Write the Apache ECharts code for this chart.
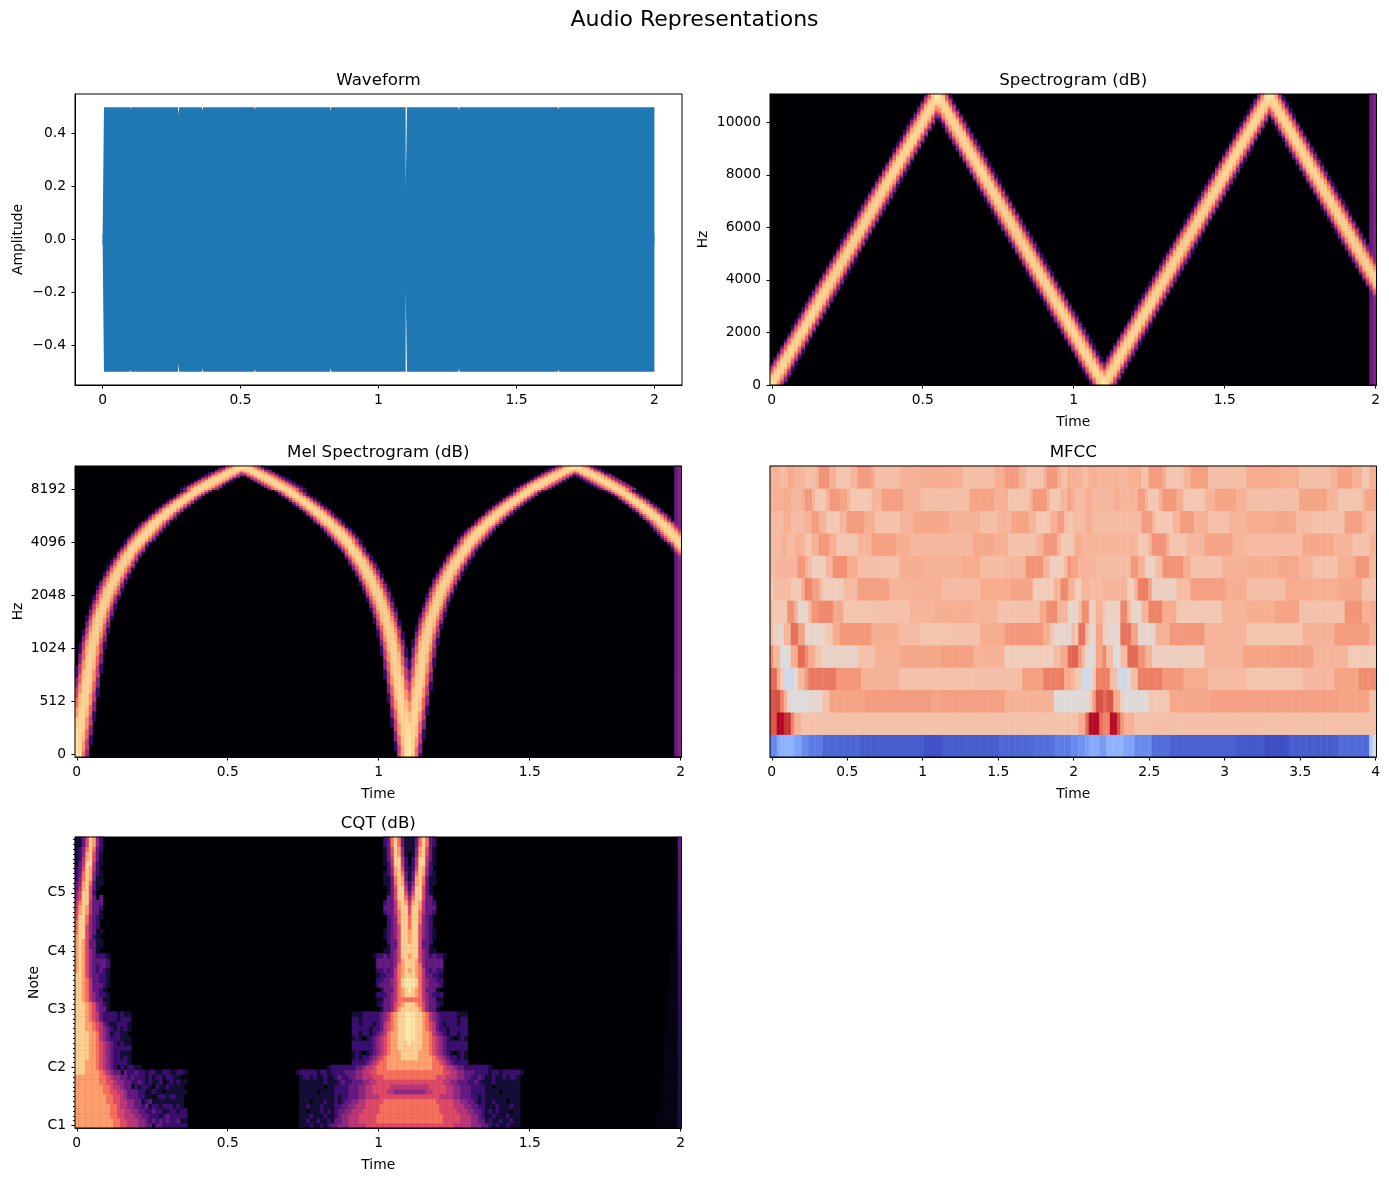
<!DOCTYPE html>
<html>
<head>
<meta charset="utf-8">
<title>Audio Representations</title>
<script src="https://cdn.jsdelivr.net/npm/echarts@6/dist/echarts.min.js"></script>
<style>
html, body { margin: 0; padding: 0; background: #fff; }
#main { width: 1389px; height: 1181px; }
</style>
</head>
<body>
<div id="main"></div>
<script>
// waveform envelope
var waveTime = [0, 0.005, 0.1, 0.1012, 0.1024, 0.2735, 0.2741, 0.2771, 0.2777, 0.36, 0.3606, 0.3636, 0.3642, 0.55, 0.5506, 0.5536, 0.5542, 0.825, 0.8256, 0.8286, 0.8292, 1.0985, 1.0986, 1.1032, 1.1033, 1.29, 1.2906, 1.2936, 1.2942, 1.65, 1.6506, 1.6536, 1.6542, 2];
var waveTop = [0, 0.5, 0.5, 0.49, 0.5, 0.5, 0.47, 0.47, 0.5, 0.5, 0.488, 0.488, 0.5, 0.5, 0.49, 0.49, 0.5, 0.5, 0.485, 0.485, 0.5, 0.5, 0.195, 0.195, 0.5, 0.5, 0.488, 0.488, 0.5, 0.5, 0.49, 0.49, 0.5, 0.5];
var waveBottom = [0, -0.5, -0.5, -0.49, -0.5, -0.5, -0.47, -0.47, -0.5, -0.5, -0.488, -0.488, -0.5, -0.5, -0.49, -0.49, -0.5, -0.5, -0.485, -0.485, -0.5, -0.5, -0.195, -0.195, -0.5, -0.5, -0.488, -0.488, -0.5, -0.5, -0.49, -0.49, -0.5, -0.5];

// tick labels
var timeTicks = [0, 0.5, 1, 1.5, 2];
var mfccTimeTicks = [0, 0.5, 1, 1.5, 2, 2.5, 3, 3.5, 4];
var waveXTicks = [0, 0.5, 1, 1.5, 2];
var waveYTicks = [-0.4, -0.2, 0, 0.2, 0.4];
var specTicks = [0, 2000, 4000, 6000, 8000, 10000];
var melTicks = [0, 512, 1024, 2048, 4096, 8192];
var noteLabels = ['C1', 'C2', 'C3', 'C4', 'C5'];

// frequency of the sweep in each STFT frame (Hz)
var ridgeHz = [
    0, 230, 470, 700, 930, 1160, 1400, 1630, 1860, 2090, 2330, 2560, 2790, 3030, 3260, 3490, 3720, 3960, 4190, 4420, 4650, 4890, 5120, 5350,
    5580, 5820, 6050, 6280, 6520, 6750, 6980, 7210, 7450, 7680, 7910, 8140, 8380, 8610, 8840, 9080, 9310, 9540, 9770, 10010, 10240, 10470, 10700, 10940,
    10880, 10650, 10420, 10180, 9950, 9720, 9490, 9250, 9020, 8790, 8560, 8320, 8090, 7860, 7620, 7390, 7160, 6930, 6690, 6460, 6230, 6000, 5760, 5530,
    5300, 5060, 4830, 4600, 4370, 4130, 3900, 3670, 3440, 3200, 2970, 2740, 2500, 2270, 2040, 1810, 1570, 1340, 1110, 880, 640, 410, 180,
    60, 290, 520, 760, 990, 1220, 1450, 1690, 1920, 2150, 2390, 2620, 2850, 3080, 3320, 3550, 3780, 4010, 4250, 4480, 4710, 4950, 5180, 5410,
    5640, 5880, 6110, 6340, 6580, 6810, 7040, 7270, 7510, 7740, 7970, 8200, 8440, 8670, 8900, 9140, 9370, 9600, 9830, 10070, 10300, 10530, 10760, 10990,
    10820, 10590, 10360, 10120, 9890, 9660, 9430, 9190, 8960, 8730, 8500, 8260, 8030, 7800, 7560, 7330, 7100, 6870, 6630, 6400, 6170, 5940, 5700, 5470,
    5240, 5000, 4770, 4540, 4310, 4070
];
// dB across the ridge, one entry per 100 Hz away from its centre
var lobeDb = [-7, -7, -8, -11, -18, -27, -37, -50, -66];
// mel filters get wider with pitch, one entry per axis unit
var melSpread = [1, 1, 1, 1.05, 1.15, 1.5];
// the two last frames are broadband
var edgeFrames = [171, 172];
var edgeDb = [-56, -50];

// MFCC rows as [end frame, value], value is percent of the colour range
var mfcc0 = [[2,-72],[3,-55],[7,-48],[9,-58],[11,-70],[15,-78],[26,-88],[44,-92],[49,-97],[65,-92],[75,-88],[81,-84],[86,-78],[88,-70],[90,-66],[91,-60],[94,-52],[96,-62],[101,-48],[104,-58],[109,-70],[114,-84],[133,-90],[141,-94],[148,-98],[162,-92],[171,-86],[172,-30],[173,-2]];
var mfcc1 = [[2,78],[4,100],[6,88],[7,60],[9,36],[86,26],[88,26],[90,40],[91,70],[94,98],[95,68],[97,60],[99,98],[100,80],[101,50],[104,36],[173,27]];
var mfcc2 = [[1,78],[3,80],[4,60],[5,36],[6,6],[11,0],[15,8],[17,26],[27,44],[46,48],[49,44],[67,46],[81,36],[86,2],[91,2],[92,20],[93,48],[95,80],[96,70],[98,78],[100,40],[101,12],[108,2],[114,22],[126,42],[145,46],[162,46],[171,44],[173,28]];
var mfcc3 = [[2,70],[3,40],[4,20],[7,-10],[8,4],[10,32],[11,50],[19,64],[26,50],[37,36],[58,26],[72,28],[78,46],[84,62],[86,40],[87,34],[89,22],[92,-8],[93,20],[97,62],[99,30],[102,-10],[103,6],[105,30],[112,62],[118,50],[125,40],[136,30],[152,24],[161,32],[168,44],[173,56]];
var mfcc4 = [[1,56],[3,32],[5,0],[6,6],[8,38],[10,70],[11,56],[13,40],[15,24],[25,12],[30,26],[37,36],[49,42],[58,46],[67,36],[81,18],[83,30],[85,42],[86,70],[88,72],[89,50],[90,30],[93,2],[95,44],[96,58],[98,30],[100,0],[102,30],[105,70],[107,54],[109,36],[124,16],[135,34],[145,44],[155,46],[165,34],[173,20]];
var mfcc5 = [[1,30],[2,14],[4,8],[6,34],[8,68],[10,46],[16,10],[18,22],[20,40],[29,50],[37,38],[43,30],[52,24],[60,26],[67,40],[78,50],[80,38],[81,24],[86,8],[87,30],[88,20],[90,66],[91,30],[93,8],[95,44],[97,14],[100,6],[103,66],[105,44],[110,8],[114,36],[124,50],[136,34],[152,24],[161,36],[171,48],[173,36]];
var mfcc6 = [[1,28],[5,22],[7,54],[8,36],[11,10],[12,34],[14,52],[18,58],[21,42],[30,24],[40,26],[47,34],[58,38],[65,34],[77,26],[79,42],[82,56],[85,34],[86,10],[88,10],[89,30],[91,56],[93,16],[95,36],[96,22],[100,14],[102,58],[103,30],[106,10],[108,34],[112,60],[116,40],[129,22],[136,34],[144,38],[151,44],[164,26],[169,52],[171,36],[173,40]];
var mfcc7 = [[1,22],[6,30],[9,20],[10,40],[12,60],[14,46],[15,34],[21,18],[25,30],[34,46],[40,34],[49,36],[60,30],[69,40],[75,44],[81,20],[83,36],[85,58],[86,38],[87,36],[89,18],[91,34],[95,30],[102,34],[104,18],[105,36],[108,62],[109,44],[116,16],[120,30],[130,46],[136,38],[147,28],[154,40],[162,38],[169,42],[173,26]];
var mfcc8 = [[2,30],[8,34],[10,52],[11,38],[12,30],[16,16],[18,34],[22,54],[25,40],[31,28],[37,26],[44,38],[55,36],[60,40],[67,30],[73,32],[78,52],[80,34],[84,16],[85,34],[86,52],[88,44],[93,34],[103,30],[105,50],[107,38],[110,14],[112,30],[118,52],[120,40],[129,26],[136,36],[145,38],[151,42],[155,34],[162,26],[167,38],[171,50],[173,32]];
var mfcc9 = [[3,30],[5,36],[7,30],[9,38],[10,34],[12,24],[14,36],[17,50],[19,38],[25,24],[29,34],[36,46],[40,38],[58,32],[64,42],[68,38],[76,26],[78,36],[82,50],[83,34],[86,20],[87,24],[89,40],[105,34],[108,22],[109,36],[113,52],[114,38],[119,24],[124,32],[132,44],[136,34],[152,30],[161,42],[166,34],[171,26],[173,36]];
var mfcc10 = [[4,30],[6,38],[10,30],[12,36],[14,48],[16,36],[20,22],[22,34],[27,48],[30,38],[37,26],[41,34],[51,42],[60,36],[65,28],[69,34],[74,44],[76,34],[80,22],[82,38],[84,48],[85,30],[86,24],[87,26],[90,30],[92,38],[106,30],[109,48],[110,34],[115,22],[117,34],[121,48],[125,36],[131,26],[136,34],[144,40],[150,42],[155,30],[164,26],[169,46],[170,34],[173,30]];
var mfcc11 = [[1,34],[4,38],[6,40],[9,32],[10,38],[12,50],[13,34],[16,22],[17,34],[20,50],[22,44],[23,34],[29,22],[32,34],[38,46],[43,36],[57,28],[64,44],[68,36],[74,24],[75,36],[79,50],[80,36],[83,22],[85,34],[86,46],[87,38],[90,30],[92,38],[98,32],[100,38],[105,34],[107,48],[108,34],[111,22],[112,36],[116,50],[118,38],[124,22],[127,34],[133,44],[136,36],[151,28],[159,44],[162,34],[169,24],[170,34],[173,44]];
var mfcc12 = [[3,36],[5,30],[7,40],[10,34],[13,28],[14,34],[17,52],[19,36],[23,24],[25,34],[29,48],[30,40],[37,28],[43,36],[55,38],[64,28],[67,38],[71,48],[73,36],[78,24],[79,36],[82,50],[83,38],[85,28],[86,40],[89,36],[91,30],[93,38],[100,35],[102,32],[106,38],[108,26],[112,48],[113,40],[118,24],[120,34],[125,46],[136,28],[144,40],[151,38],[160,28],[162,36],[166,46],[169,36],[171,22],[173,38]];
var mfccRows = [mfcc0, mfcc1, mfcc2, mfcc3, mfcc4, mfcc5, mfcc6, mfcc7, mfcc8, mfcc9, mfcc10, mfcc11, mfcc12];

// CQT, one string per note from C1 up, one char per frame, levels 0-9 (a = 9.5)
// frames from the start of the clip
var cqtStart = [
    '88888888888776655544331332222222',
    '88888888888776655544323232322311',
    '88888888887766555443322212322222',
    '88888888887766554433223221122122',
    '88888888887765544332312212221210',
    '8888888887766554433123111111111',
    '88888888877665433322110122122110',
    '88888888776655433322012110111111',
    '88888888776554330212210211211110',
    '88888887766544332232121120121211',
    '888888877654433232221212212211',
    '99988887654330322322122112211221',
    '999888765432021221100',
    '9998887654322221',
    '9999887654322121',
    '9999887654322111',
    '9999887654322222',
    '9999887654321211',
    '9999887543222111',
    '9999887543122110',
    '9998876543212121',
    '9998876532112221',
    '9998765322221222',
    '9998765322221211',
    '9998764331',
    '9998764321',
    '9987543311',
    '9987543221',
    '9987533210',
    '9987533321',
    '9987533221',
    '9986433221',
    '8986432321',
    '8986432332',
    '8986433332',
    '8986432221',
    '89864310',
    '89863311',
    '89863311',
    '8996421',
    '799643 1',
    '7996432',
    '7997432',
    '69974321',
    '68985331',
    '58985332',
    '57995333',
    '469963 3',
    '46996200',
    '35896310',
    '34897311',
    '24798411',
    '23798421',
    '23698520',
    '13599521',
    '12589631',
    '12489631',
    '12479732',
    '11369842',
    '11369842'
];
// frames away from the dip at 1.1 s
var cqtCentre = [
    '66666666666665555544433212112111',
    '77777777776666655544331211211211',
    '77777777776666655544321121112111',
    '77777777766666555443321212111011',
    '77777777766665554433221112111211',
    '77777777666665544332121121110111',
    '66666666655554433322121111111111',
    '44444556666554433322221111011111',
    '55555566666554433322221101111111',
    '66666666665544333223211121111111',
    '77777777666555443322321121121221',
    '777777777766554433322221221222221',
    '888888877765543322222221',
    '88888887765432222',
    '99988887654322121',
    '99988876543210121',
    '99998876543222222',
    'a9998876543222222',
    'aa998876543210121',
    'aa998875432122122',
    'aa998765322122222',
    'aa998765321222122',
    'aa998754322222122',
    'aa998754322222111',
    '9998643310',
    '9987643321',
    '7777543311',
    '9987543222',
    'a987533310',
    'aa97543332',
    'aa97543322',
    '9987533221',
    '8987532322',
    '9987433333',
    '9986433333',
    '89964323221',
    '99964311',
    '9996331',
    '8996332',
    '89964321',
    '89964321',
    '7996432',
    '7997432',
    '7997432',
    '69975332',
    '69985333',
    '58985332',
    '47996330',
    '36996310',
    '25996310',
    '24897311',
    '13897311',
    '13798421',
    '12698420',
    '02599521',
    '02599531',
    '01489631',
    '11489631',
    '11379732',
    '11379732'
];
// last frame level and width of the faint glow before it, per note
var cqtTailLevel = [1.2, 1.2, 1.2, 1.2, 1.2, 1.2, 1.2, 1.3, 1.3, 1.3, 1.3, 1.3, 1.3, 1.3, 1.3, 1.4, 1.4, 1.4, 1.4, 1.4, 1.5, 1.5, 1.5, 1.5, 1.6, 1.6, 1.6, 1.7, 1.7, 1.7, 1.8, 1.8, 1.8, 1.9, 1.9, 2, 2, 2, 2.1, 2.1, 2.2, 2.2, 2.3, 2.3, 2.4, 2.4, 2.5, 2.5, 2.5, 2.6, 2.6, 2.6, 2.7, 2.7, 2.7, 2.7, 2.8, 2.8, 2.8, 2.8];
var cqtTailWidth = [6, 6, 6, 5, 5, 5, 5, 5, 5, 5, 4, 4, 4, 4, 4, 4, 4, 4, 4, 3, 3, 3, 3, 3, 3, 3, 3, 3, 2, 2, 2, 2, 2, 2, 2, 2, 1, 1, 1, 1, 1, 1, 1, 1, 1, 0, 0, 0, 0, 0, 0, 0, 0, 0, 0, 0, 0, 0, 0, 0];

var magma = ['#000004', '#140e36', '#3b0f70', '#641a80', '#8c2981', '#b73779', '#de4968', '#f7705c', '#fe9f6d', '#fecf92', '#fcfdbf'];
var coolwarm = ['#3b4cc0', '#5977e3', '#7b9ff9', '#9ebeff', '#c0d4f5', '#dddcdc', '#f2cbb7', '#f7ac8e', '#ee8468', '#d65244', '#b40426'];

var frames = 173;
var nyquist = 11025;
var specMax = 11075;
var gridRows = 146;

function indexList(n) {
    var out = [];
    for (var i = 0; i < n; i++) { out.push(String(i)); }
    return out;
}

// dB of a cell lying df Hz from the ridge
function lobeAt(df) {
    var k = Math.round(Math.abs(df) / 100);
    return k < lobeDb.length ? lobeDb[k] : null;
}

function addPower(a, b) {
    if (a === null) return b;
    if (b === null) return a;
    return 10 * Math.log10(Math.pow(10, a / 10) + Math.pow(10, b / 10));
}

function cellDb(frame, hz, spread) {
    var r = ridgeHz[frame];
    var db = addPower(addPower(lobeAt((hz - r) / spread), lobeAt((hz + r) / spread)), lobeAt((2 * nyquist - hz - r) / spread));
    var e = edgeFrames.indexOf(frame);
    if (e >= 0) { db = addPower(db, edgeDb[e]); }
    return db;
}

// mel panel axis: linear up to 1024 Hz, then one unit per octave
function melUnit(hz) {
    return hz < 1024 ? hz / 512 : 2 + Math.log2(hz / 1024);
}
function melHz(unit) {
    if (unit < 0) return 0;
    return unit < 2 ? unit * 512 : 1024 * Math.pow(2, unit - 2);
}

var melMin = -0.057, melMax = 5.434;

function spectrogramCells() {
    var out = [];
    for (var f = 0; f < frames; f++) {
        for (var r = 0; r < gridRows; r++) {
            var db = cellDb(f, (r + 0.5) * specMax / gridRows, 1);
            if (db !== null) { out.push([f, r, db]); }
        }
    }
    return out;
}

function melCells() {
    var out = [];
    for (var f = 0; f < frames; f++) {
        for (var r = 0; r < gridRows; r++) {
            var unit = melMin + (r + 0.5) * (melMax - melMin) / gridRows;
            var spread = melSpread[Math.max(0, Math.floor(unit))];
            var db = cellDb(f, melHz(unit), spread);
            if (db !== null) { out.push([f, r, db]); }
        }
    }
    return out;
}

function mfccCells() {
    var out = [];
    mfccRows.forEach(function (runs, row) {
        var f = 0;
        runs.forEach(function (run) {
            for (; f < run[0]; f++) { out.push([f, row, run[1]]); }
        });
    });
    return out;
}

function levelAt(str, i) {
    var ch = str.charAt(i);
    if (ch === 'a') return 9.5;
    return ch === '' || ch === ' ' ? 0 : Number(ch);
}

function cqtCells() {
    var out = [];
    for (var r = 0; r < 60; r++) {
        for (var f = 0; f < frames; f++) {
            var level = Math.max(levelAt(cqtStart[r], f), levelAt(cqtCentre[r], Math.abs(f - 95)));
            if (f === frames - 1) {
                level = Math.max(level, cqtTailLevel[r]);
            } else if (f >= frames - 1 - cqtTailWidth[r]) {
                level = Math.max(level, 0.3);
            }
            if (level > 0) { out.push([f, r, level * 8 - 80]); }
        }
    }
    return out;
}

var font = 'DejaVu Sans';
var grids = [], xAxes = [], yAxes = [], seriesList = [], titles = [], backs = [];

titles.push({
    text: 'Audio Representations', left: 694.5, top: 9, padding: 0, textAlign: 'center',
    textStyle: { fontFamily: font, fontSize: 22, fontWeight: 'normal', color: '#000' }
});

function addGrid(box, title) {
    grids.push({
        left: box[0], top: box[1], width: box[2], height: box[3], containLabel: false,
        show: true, backgroundColor: 'transparent', borderColor: '#000', borderWidth: 1, z: 10
    });
    titles.push({
        text: title, left: box[0] + box[2] / 2, top: box[1] - 21.5, padding: 0, textAlign: 'center',
        textStyle: { fontFamily: font, fontSize: 16.67, fontWeight: 'normal', color: '#000' }
    });
    return grids.length - 1;
}

function valueAxis(grid, pos, min, max, ticks, name, gap, fmt) {
    return {
        type: 'value', gridIndex: grid, position: pos, min: min, max: max, scale: true,
        name: name, nameLocation: 'middle', nameGap: gap,
        nameTextStyle: { fontFamily: font, fontSize: 13.89, color: '#000' },
        splitLine: { show: false },
        axisLine: { show: true, onZero: false, lineStyle: { color: '#000', width: 1 } },
        axisTick: { show: true, length: 3.5, customValues: ticks, lineStyle: { color: '#000', width: 1 } },
        axisLabel: {
            show: ticks.length > 0, customValues: ticks, margin: pos === 'left' ? 9 : 8,
            padding: pos === 'left' ? [2, 0, 0, 0] : 0,
            formatter: fmt || function (v) { return String(v); },
            fontFamily: font, fontSize: 13.89, color: '#000', hideOverlap: false, showMinLabel: true, showMaxLabel: true
        }
    };
}

function cellAxis(grid, pos, n) {
    return {
        type: 'category', gridIndex: grid, position: pos, data: indexList(n), show: false,
        axisLine: { show: false, onZero: false }, splitLine: { show: false }
    };
}

function addHeatmap(box, title, cols, rows, cells, black, xa, ya) {
    var g = addGrid(box, title);
    if (black) {
        backs.push({ type: 'rect', shape: { x: box[0], y: box[1], width: box[2], height: box[3] }, style: { fill: '#000004' }, z: 0 });
    }
    var xIndex = xAxes.length, yIndex = yAxes.length;
    xAxes.push(cellAxis(g, 'bottom', cols));
    yAxes.push(cellAxis(g, 'left', rows));
    xa.gridIndex = g;
    ya.gridIndex = g;
    xAxes.push(xa);
    yAxes.push(ya);
    seriesList.push({
        type: 'heatmap', xAxisIndex: xIndex, yAxisIndex: yIndex, data: cells,
        progressive: 0, silent: true, animation: false, emphasis: { disabled: true }
    });
    return yIndex;
}

var timeFmt = function (v) { return String(v); };
var minusFmt = function (v) { return v.toFixed(1).replace('-', '\u2212'); };

// Waveform
var waveGrid = addGrid([75, 94, 607, 291], 'Waveform');
xAxes.push(valueAxis(waveGrid, 'bottom', -0.1, 2.1, waveXTicks, '', 30, timeFmt));
yAxes.push(valueAxis(waveGrid, 'left', -0.55, 0.55, waveYTicks, 'Amplitude', 50, minusFmt));
[waveTop, waveBottom].forEach(function (edge, k) {
    seriesList.push({
        type: 'line', xAxisIndex: 0, yAxisIndex: 0, showSymbol: false, silent: true, animation: false,
        data: waveTime.map(function (t, i) { return [t, edge[i]]; }),
        lineStyle: { width: 0 }, areaStyle: { color: '#1f77b4', opacity: 1, origin: k === 0 ? -0.02 : 0.02 }, itemStyle: { color: '#1f77b4' }
    });
});

var tMin = -0.0058, tMax = 2.0027;

// Spectrogram
addHeatmap([770, 94, 606.5, 291], 'Spectrogram (dB)', frames, gridRows, spectrogramCells(), true,
    valueAxis(0, 'bottom', tMin, tMax, timeTicks, 'Time', 30, timeFmt),
    valueAxis(0, 'left', 0, specMax, specTicks, 'Hz', 60));

// Mel spectrogram
addHeatmap([75, 466, 606.5, 291], 'Mel Spectrogram (dB)', frames, gridRows, melCells(), true,
    valueAxis(0, 'bottom', tMin, tMax, timeTicks, 'Time', 30, timeFmt),
    valueAxis(0, 'left', melMin, melMax, melTicks.map(melUnit), 'Hz', 50, function (v) {
        var best = 0;
        melTicks.forEach(function (t, i) { if (Math.abs(melUnit(t) - v) < 0.01) { best = i; } });
        return String(melTicks[best]);
    }));

// MFCC
addHeatmap([770, 466, 606.5, 291], 'MFCC', frames, 13, mfccCells(), false,
    valueAxis(0, 'bottom', tMin * 2, tMax * 2, mfccTimeTicks, 'Time', 30, timeFmt),
    valueAxis(0, 'left', 0, 1, [], '', 0));

// CQT, the note rows carry the small ticks
var cqtCat = addHeatmap([75, 837, 606.5, 291], 'CQT (dB)', frames, 60, cqtCells(), true,
    valueAxis(0, 'bottom', tMin, tMax, timeTicks, 'Time', 30, timeFmt),
    valueAxis(0, 'left', -0.5, 59.5, [0, 12, 24, 36, 48], 'Note', 34, function (v) {
        return noteLabels[Math.round(v / 12)];
    }));
yAxes[cqtCat].show = true;
yAxes[cqtCat].axisLine = { show: false, onZero: false };
yAxes[cqtCat].axisLabel = { show: false };
yAxes[cqtCat].axisTick = { show: true, length: 2, interval: 0, alignWithLabel: true, lineStyle: { color: '#000', width: 1 } };

var chart = echarts.init(document.getElementById('main'), null, { renderer: 'canvas' });
chart.setOption({
    backgroundColor: '#fff',
    animation: false,
    textStyle: { fontFamily: font },
    title: titles,
    tooltip: { show: false },
    graphic: { elements: backs },
    grid: grids,
    xAxis: xAxes,
    yAxis: yAxes,
    visualMap: [
        { show: false, type: 'continuous', min: -80, max: 0, dimension: 2, seriesIndex: [2, 3, 5], inRange: { color: magma } },
        { show: false, type: 'continuous', min: -100, max: 100, dimension: 2, seriesIndex: [4], inRange: { color: coolwarm } }
    ],
    series: seriesList
});
</script>
</body>
</html>
